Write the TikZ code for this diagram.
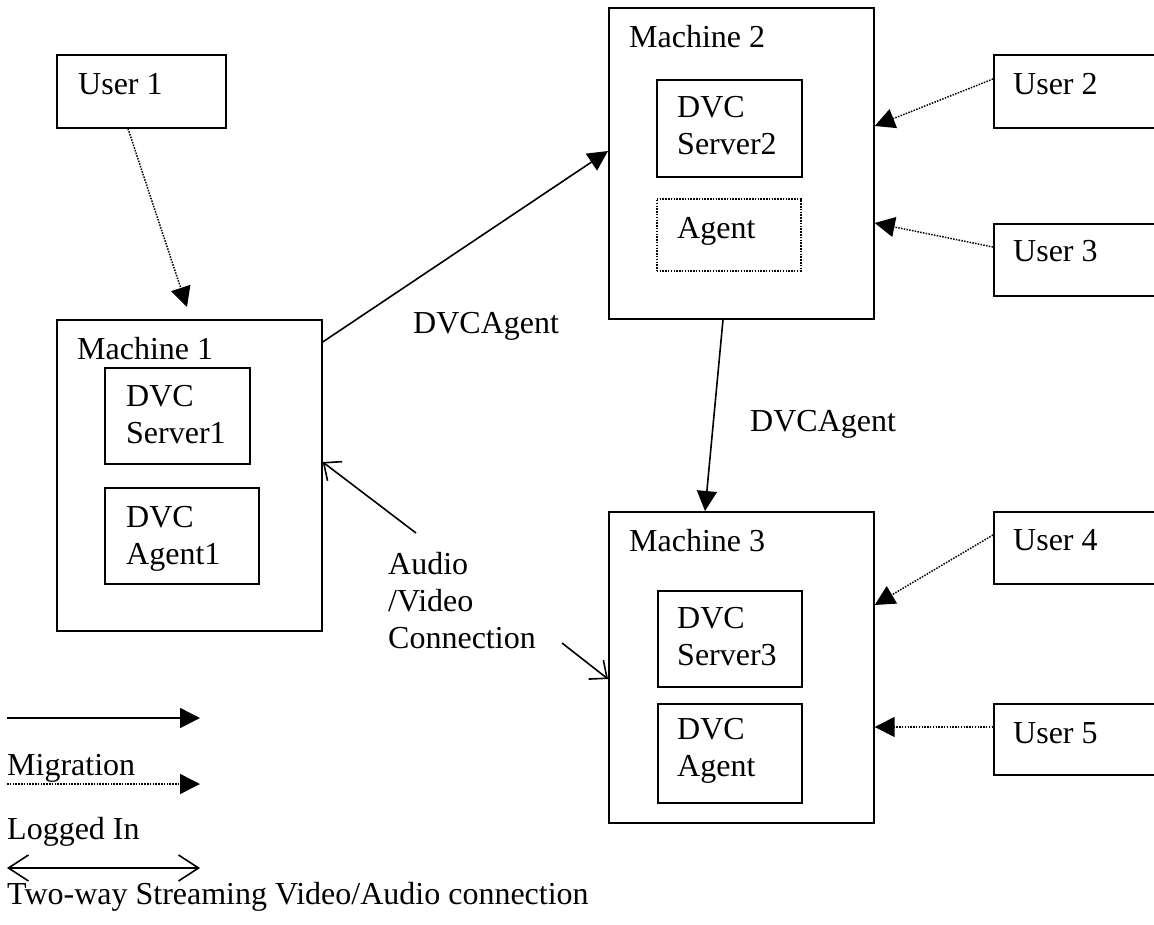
\documentclass[tikz,border=0pt]{standalone}
\usepackage{fontspec}
\setmainfont{Liberation Serif}
\usetikzlibrary{arrows.meta}
\begin{document}
\begin{tikzpicture}[x=1pt,y=-1pt,
  box/.style={draw, line width=1.7pt, inner sep=0pt, anchor=north west},
  dotbox/.style={box, line width=1.5pt, dash pattern=on 1.5pt off 1.3pt},
  txt/.style={inner sep=0pt, anchor=base west, font=\fontsize{32}{37}\selectfont},
  mtxt/.style={inner sep=0pt, anchor=north west, align=left, font=\fontsize{32}{37}\selectfont},
  solidarrow/.style={line width=1.6pt, -{Triangle[length=20pt,width=20pt]}},
  loginarrow/.style={line width=1.5pt, dash pattern=on 1.5pt off 1.3pt, -{Triangle[length=20pt,width=20pt]}},
  avarrow/.style={line width=1.6pt, -{Straight Barb[length=14pt,width=24pt]}},
  twoway/.style={line width=1.6pt, {Straight Barb[length=20pt,width=26pt]}-{Straight Barb[length=20pt,width=26pt]}}]
\useasboundingbox (0,0) rectangle (1154,924);
\clip (0,0) rectangle (1154,924);

% boxes
\node[box, minimum width=169pt, minimum height=73pt] (u1) at (56,54) {};
\node[box, minimum width=265pt, minimum height=311pt] (m1) at (56,319) {};
\node[box, minimum width=145pt, minimum height=96pt] (s1) at (104,367) {};
\node[box, minimum width=154pt, minimum height=96pt] (a1) at (104,487) {};
\node[box, minimum width=265pt, minimum height=311pt] (m2) at (608,7) {};
\node[box, minimum width=145pt, minimum height=97pt] (s2) at (656,79) {};
\node[dotbox, minimum width=144pt, minimum height=72pt] (ag2) at (656,198) {};
\node[box, minimum width=265pt, minimum height=311pt] (m3) at (608,511) {};
\node[box, minimum width=144pt, minimum height=96pt] (s3) at (657,590) {};
\node[box, minimum width=144pt, minimum height=99pt] (a3) at (657,703) {};
\node[box, minimum width=169pt, minimum height=73pt] (u2) at (993,54) {};
\node[box, minimum width=169pt, minimum height=72pt] (u3) at (993,223) {};
\node[box, minimum width=169pt, minimum height=72pt] (u4) at (993,511) {};
\node[box, minimum width=169pt, minimum height=71pt] (u5) at (993,703) {};

% texts
\node[txt] (tu1) at (78,94) {User 1};
\node[txt] (tm1) at (77,359) {Machine 1};
\node[mtxt] (ts1) at (126,385) {DVC\\Server1};
\node[mtxt] (ta1) at (126,506) {DVC\\Agent1};
\node[txt] (tm2) at (629,47) {Machine 2};
\node[mtxt] (ts2) at (677,96) {DVC\\Server2};
\node[txt] (tag2) at (677,238) {Agent};
\node[txt] (tm3) at (629,551) {Machine 3};
\node[mtxt] (ts3) at (677,607) {DVC\\Server3};
\node[mtxt] (ta3) at (677,718) {DVC\\Agent};
\node[txt] (tu2) at (1013,94) {User 2};
\node[txt] (tu3) at (1013,261) {User 3};
\node[txt] (tu4) at (1013,550) {User 4};
\node[txt] (tu5) at (1013,743) {User 5};
\node[txt] (lab1) at (413,333) {DVCAgent};
\node[txt] (lab2) at (750,431) {DVCAgent};
\node[mtxt] (labav) at (388,552) {Audio\\/Video\\Connection};
\node[txt] (leg1) at (7,775) {Migration};
\node[txt] (leg2) at (7,839) {Logged In};
\node[txt] (leg3) at (7,904) {Two-way Streaming Video/Audio connection};

% free ends
\coordinate (av1) at (416,533);
\coordinate (av2) at (562,643);
\coordinate (l1a) at (7,718);
\coordinate (l1b) at (200,718);
\coordinate (l2a) at (7,784);
\coordinate (l2b) at (200,784);
\coordinate (l3a) at (7,868);
\coordinate (l3b) at (200,868);

% connectors
\draw[loginarrow] ([xshift=72pt]u1.south west) -- ([xshift=131pt,yshift=12pt]m1.north west);
\draw[solidarrow] ([yshift=-23pt]m1.north east) -- ([yshift=-144pt]m2.north west);
\draw[solidarrow] ([xshift=115pt]m2.south west) -- ([xshift=97pt]m3.north west);
\draw[loginarrow] ([yshift=-25pt]u2.north west) -- ([yshift=-119pt]m2.north east);
\draw[loginarrow] ([yshift=-24pt]u3.north west) -- ([yshift=-216pt]m2.north east);
\draw[loginarrow] ([yshift=-24pt]u4.north west) -- ([yshift=-94pt]m3.north east);
\draw[loginarrow] ([yshift=-24pt]u5.north west) -- ([yshift=-216pt]m3.north east);
\draw[avarrow] (av1) -- ([yshift=-143pt]m1.north east);
\draw[avarrow] (av2) -- ([yshift=-168pt]m3.north west);

% legend
\draw[solidarrow] (l1a) -- (l1b);
\draw[loginarrow] (l2a) -- (l2b);
\draw[twoway] (l3a) -- (l3b);
\end{tikzpicture}
\end{document}
